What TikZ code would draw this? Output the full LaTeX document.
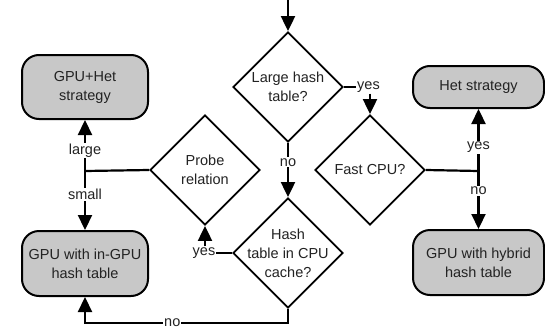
\documentclass[tikz,border=0pt]{standalone}
\usepackage{fontspec}
\setmainfont{Liberation Sans}
\usetikzlibrary{shapes.geometric,arrows.meta}
\definecolor{boxfill}{RGB}{200,200,200}
\definecolor{txt}{RGB}{35,35,35}
\begin{document}
\begin{tikzpicture}[x=1pt,y=-1pt,
  every node/.style={font=\fontsize{14.5}{19}\selectfont, text=txt},
  box/.style={draw, line width=2pt, fill=boxfill, rounded corners=17pt,
    align=center, inner sep=0pt},
  dia/.style={draw, diamond, line width=1.9pt, minimum size=110pt,
    inner sep=0pt, fill=white},
  lab/.style={fill=white, inner sep=1pt},
  link/.style={line width=2.2pt},
  arr/.style={link, -{Triangle[length=15pt,width=14pt]}},
]
\useasboundingbox (0,0) rectangle (545,329);

% outcome boxes
\node[box, minimum width=126pt, minimum height=64pt] (gpuhet) at (85,87) {GPU+Het\\strategy};
\node[box, minimum width=126pt, minimum height=65pt] (ingpu) at (85,263.5) {GPU with in-GPU\\hash table};
\node[box, minimum width=131pt, minimum height=42pt] (het) at (478.5,87) {Het strategy};
\node[box, minimum width=131pt, minimum height=65pt] (hybrid) at (478.5,262.5) {GPU with hybrid\\hash table};

% decisions
\node[dia, label={[align=center]center:Large hash\\table?}] (large) at (288,87) {};
\node[dia, label={[align=center]center:Hash\\table in CPU\\cache?}] (hash) at (288,253) {};
\node[dia, label={[align=center]center:Probe\\relation}] (probe) at (205,170) {};
\node[dia, label={[align=center]center:Fast CPU?}] (fast) at (370,170) {};

% junctions and free ends
\coordinate (top) at (288,0);
\coordinate (jl) at (85,171);
\coordinate (jr) at (478.5,171);
\coordinate (bot) at (288,323);

% entry
\draw[arr] (top) -- (large.north);

% large hash table?
\node[lab] (yesA) at (368.5,87) {yes};
\draw[link] (large.east) -- (yesA.west);
\draw[arr] (yesA.south -| fast.north) -- (fast.north);
\draw[arr] (large.south) -- node[lab, pos=0.36] {no} (hash.north);

% hash table in CPU cache?
\node[lab] (yesB) at (204,253) {yes};
\draw[link] (hash.west) -- (yesB.east);
\draw[arr] (yesB.north -| probe.south) -- (probe.south);
\draw[arr] (hash.south) -- (bot) -- node[lab, pos=0.57] {no} (bot -| ingpu.south) -- (ingpu.south);

% probe relation
\draw[link] (probe.west) -- (jl);
\draw[arr] (jl) -- node[lab, pos=0.4] {large} (gpuhet.south);
\draw[arr] (jl) -- node[lab, pos=0.4] {small} (ingpu.north);

% fast CPU?
\draw[link] (fast.east) -- (jr);
\draw[arr] (jr) -- node[lab, pos=0.38] {yes} (het.south);
\draw[arr] (jr) -- node[lab, pos=0.34] {no} (hybrid.north);
\end{tikzpicture}
\end{document}
